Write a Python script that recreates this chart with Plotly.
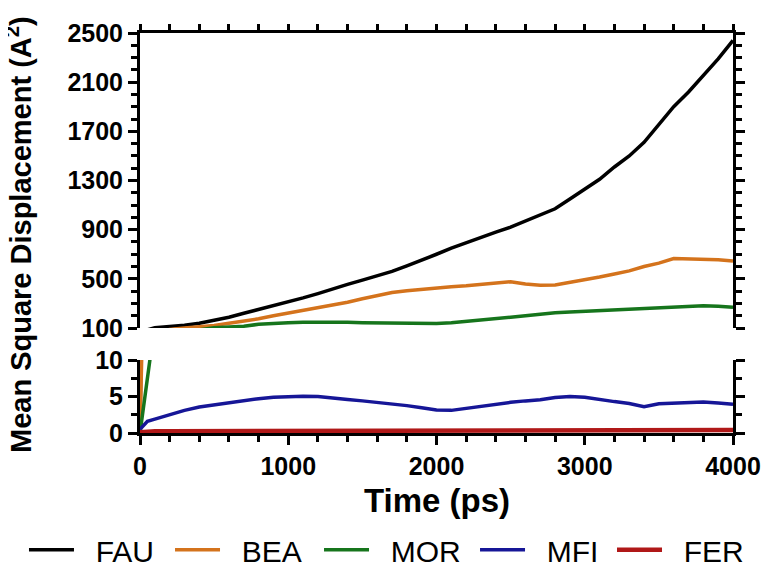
import plotly.graph_objects as go

time_ps = [0, 50, 100, 200, 300, 400, 500, 600, 700, 800, 900, 1000, 1100, 1200, 1300,
           1400, 1500, 1600, 1700, 1800, 1900, 2000, 2100, 2200, 2300, 2400, 2500, 2600,
           2700, 2800, 2900, 3000, 3100, 3200, 3300, 3400, 3500, 3600, 3700, 3800, 3900, 4000]

fau = [0, 85, 103, 112, 123, 138, 160, 188, 220, 250, 285, 315, 345, 380, 420,
       455, 490, 525, 560, 605, 650, 700, 750, 795, 840, 880, 920, 970,
       1020, 1070, 1150, 1230, 1310, 1410, 1500, 1610, 1750, 1900, 2020, 2150, 2290, 2440]

bea = [0, 45, 65, 88, 101, 110, 120, 138, 155, 175, 200, 222, 245, 265, 285,
       310, 338, 362, 388, 403, 415, 425, 435, 443, 452, 463, 476, 458,
       447, 450, 470, 493, 515, 540, 565, 600, 628, 665, 663, 659, 655, 645]

mor = [0, 7.5, 15, 42, 65, 85, 102, 108, 115, 130, 138, 142, 146, 148, 148,
       146, 143, 141, 139, 137, 135, 136, 143, 153, 165, 178, 188, 200,
       215, 225, 230, 236, 242, 248, 253, 258, 266, 273, 279, 281, 276, 268]

mfi = [0.5, 1.6, 1.9, 2.5, 3.1, 3.55, 3.85, 4.15, 4.45, 4.7, 4.9, 5.0, 5.05, 5.0, 4.85,
       4.6, 4.4, 4.2, 4.0, 3.75, 3.45, 3.15, 3.1, 3.4, 3.7, 3.9, 4.2, 4.4,
       4.55, 4.85, 5.0, 4.9, 4.55, 4.3, 4.05, 3.6, 4.0, 4.1, 4.2, 4.25, 4.1, 3.95]

fer = [0.1, 0.25, 0.25, 0.25, 0.25, 0.25, 0.25, 0.25, 0.25, 0.25, 0.25, 0.25, 0.25, 0.25, 0.25,
       0.25, 0.25, 0.25, 0.25, 0.25, 0.25, 0.25, 0.25, 0.25, 0.4, 0.4, 0.4, 0.4,
       0.4, 0.4, 0.4, 0.4, 0.4, 0.4, 0.4, 0.4, 0.4, 0.4, 0.4, 0.4, 0.4, 0.4]

series_names = ["FAU", "BEA", "MOR", "MFI", "FER"]
series_values = [fau, bea, mor, mfi, fer]
series_colors = ["#000000", "#d4731c", "#16751c", "#161697", "#b01818"]
series_widths = [3.5, 3.5, 3.5, 3.5, 4.5]

x_ticks = [0, 1000, 2000, 3000, 4000]
top_y_ticks = [100, 500, 900, 1300, 1700, 2100, 2500]
bottom_y_ticks = [0, 5, 10]

FONT = "Liberation Sans, Arial, sans-serif"
NB = "\u00a0"

# one small legend box per series, placed along the bottom like the reference
legend_ids = ["legend", "legend2", "legend3", "legend4", "legend5"]
legend_x = [0.0210, 0.2129, 0.4087, 0.6137, 0.7937]

fig = go.Figure()
for name, vals, color, w, lid in zip(series_names, series_values, series_colors,
                                     series_widths, legend_ids):
    fig.add_trace(go.Scatter(x=time_ps, y=vals, xaxis="x", yaxis="y", mode="lines",
                             line=dict(color=color, width=w), name=name,
                             legendgroup=name, showlegend=False, hoverinfo="skip"))
    fig.add_trace(go.Scatter(x=time_ps, y=vals, xaxis="x2", yaxis="y2", mode="lines",
                             line=dict(color=color, width=w), name=NB * 2 + name,
                             legendgroup=name, showlegend=True, legend=lid))

axis_common = dict(showline=True, linecolor="black", linewidth=3, ticks="outside",
                   tickcolor="black", tickwidth=3, showgrid=False, zeroline=False,
                   automargin=False,
                   tickfont=dict(family=FONT, size=25, color="black", weight="bold"))

legend_layouts = {
    lid: dict(orientation="h", xref="container", yref="container",
              x=lx, xanchor="left", y=0.029, yanchor="middle",
              font=dict(family=FONT, size=30, color="black"), bgcolor="rgba(0,0,0,0)",
              itemwidth=45)
    for lid, lx in zip(legend_ids, legend_x)
}

# the page adds an 8px body margin, so the figure is sized to stay inside the window
fig.update_layout(
    template="none",
    width=761, height=558,
    margin=dict(l=132, r=36, t=25, b=133),
    paper_bgcolor="white", plot_bgcolor="white",
    xaxis=dict(domain=[0, 1], anchor="y", range=[0, 4000], tickvals=x_ticks, ticklen=9,
               minor=dict(dtick=200, ticklen=6, tickwidth=3, tickcolor="black", ticks="outside"),
               **axis_common),
    yaxis=dict(domain=[0, 0.1825], anchor="x", range=[0, 10], tickvals=bottom_y_ticks,
               ticklen=9, mirror="ticks",
               minor=dict(dtick=2.5, ticklen=6, tickwidth=3, tickcolor="black", ticks="outside"),
               **axis_common),
    xaxis2=dict(domain=[0, 1], anchor="y2", matches="x", range=[0, 4000], side="top",
                dtick=200, ticklen=6, showticklabels=False, **axis_common),
    yaxis2=dict(domain=[0.2625, 1], anchor="x2", range=[100, 2500], tickvals=top_y_ticks,
                ticklen=9, mirror="ticks",
                minor=dict(dtick=100, tick0=100, ticklen=6, tickwidth=3, tickcolor="black", ticks="outside"),
                **axis_common),
    annotations=[
        dict(text="<b>Time (ps)</b>", xref="paper", yref="paper", x=0.5, y=-0.1675,
             xanchor="center", yanchor="middle", showarrow=False,
             font=dict(family=FONT, size=33, color="black")),
        dict(text="<b>Mean Square Displacement (A<sup>2</sup>)</b>", xref="paper", yref="paper",
             x=-0.204, y=0.495, xanchor="center", yanchor="middle", textangle=-90,
             showarrow=False, font=dict(family=FONT, size=29, color="black")),
    ],
    **legend_layouts,
)

fig.write_html("out.html")
